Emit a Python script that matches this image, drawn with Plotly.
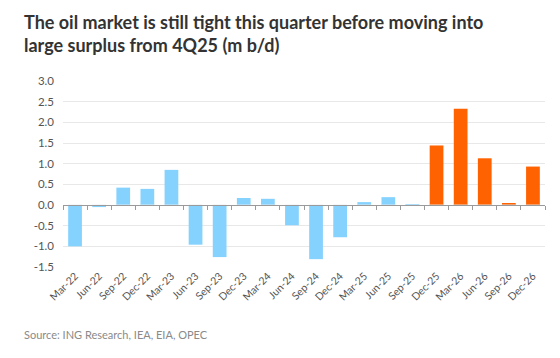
import plotly.graph_objects as go

categories = ["Mar-22", "Jun-22", "Sep-22", "Dec-22", "Mar-23", "Jun-23", "Sep-23", "Dec-23",
              "Mar-24", "Jun-24", "Sep-24", "Dec-24", "Mar-25", "Jun-25", "Sep-25", "Dec-25",
              "Mar-26", "Jun-26", "Sep-26", "Dec-26"]
balance = [-1.00, -0.05, 0.42, 0.39, 0.85, -0.96, -1.26, 0.17,
           0.15, -0.49, -1.31, -0.78, 0.07, 0.19, 0.02, 1.44,
           2.33, 1.13, 0.03, 0.93]
forecast_from = "Dec-25"
y_tickvals = [-1.5, -1.0, -0.5, 0.0, 0.5, 1.0, 1.5, 2.0, 2.5, 3.0]
y_ticktext = ["-1.5", "-1.0", "-0.5", "0.0", "0.5", "1.0", "1.5", "2.0", "2.5", "3.0"]

BLUE = "#85D2FF"
ORANGE = "#FF6200"
split = categories.index(forecast_from)
colors = [BLUE if i < split else ORANGE for i in range(len(categories))]

fig = go.Figure()
fig.add_trace(go.Bar(x=categories, y=balance, marker=dict(color=colors, line=dict(width=0)),
                     showlegend=False, hoverinfo="x+y"))
# invisible trace for the zero-line axis with boundary ticks
fig.add_trace(go.Bar(x=categories, y=[0] * len(categories), xaxis="x2", showlegend=False,
                     marker=dict(color="rgba(0,0,0,0)"), hoverinfo="skip"))

ymin, ymax = -1.5, 3.0
fig.update_layout(
    width=552, height=350,
    margin=dict(l=55, r=15, t=73, b=91, autoexpand=False),
    paper_bgcolor="white", plot_bgcolor="white",
    bargap=0.43,
    font=dict(family="Lato, Open Sans, sans-serif", color="#555555"),
    xaxis=dict(type="category", categoryarray=categories, tickangle=-45, automargin=False,
               tickfont=dict(size=10.5, color="#555555"), showgrid=False,
               showline=False, ticks="", range=[-0.5, len(categories) - 0.5]),
    xaxis2=dict(type="category", categoryarray=categories, overlaying="x", anchor="free",
                position=(0 - ymin) / (ymax - ymin), side="bottom", automargin=False,
                showline=True, linecolor="#9a9a9a", linewidth=1,
                ticks="outside", tickson="boundaries", ticklen=4, tickcolor="#9a9a9a",
                showticklabels=False, showgrid=False, range=[-0.5, len(categories) - 0.5]),
    yaxis=dict(range=[ymin, ymax], tickvals=y_tickvals, ticktext=y_ticktext, automargin=False,
               gridcolor="#e8e8e8", gridwidth=1, zeroline=False, showline=False,
               tickfont=dict(size=11.5, color="#555555"), ticks="", ticklabelstandoff=8),
    annotations=[
        dict(text="The oil market is still tight this quarter before moving into<br>large surplus from 4Q25 (m b/d)",
             xref="paper", yref="paper", x=-41 / 482, y=1 + 72 / 186, xanchor="left", yanchor="top",
             align="left", showarrow=False,
             font=dict(family="Lato", size=18, color="#333333", weight="bold")),
        dict(text="Source: ING Research, IEA, EIA, OPEC",
             xref="paper", yref="paper", x=-41 / 482, y=-(326 - 267) / 186, xanchor="left", yanchor="top",
             align="left", showarrow=False,
             font=dict(family="Lato", size=11, color="#8a8a8a")),
    ],
)

fig.write_html("out.html")
